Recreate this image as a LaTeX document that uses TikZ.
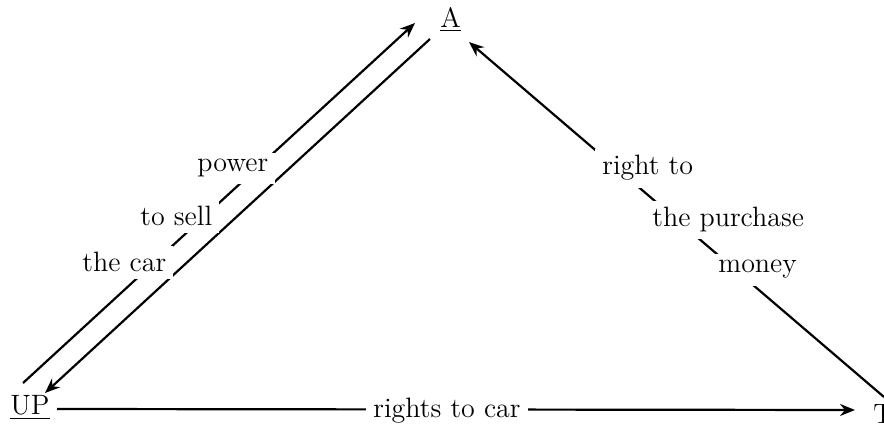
\documentclass[tikz,border=0pt]{standalone}
\usetikzlibrary{arrows.meta}
\tikzset{
  flowarrow/.style={-{Stealth[length=7.5pt,width=6pt,inset=2.5pt]}, line width=1.1pt},
  party/.style={inner sep=0pt, anchor=base west, font=\fontsize{14}{16}\selectfont},
  relabel/.style={fill=white, inner sep=3.5pt, anchor=base west, font=\fontsize{14}{16}\selectfont}
}
\begin{document}
\begin{tikzpicture}[x=0.5pt, y=-0.5pt]
  \useasboundingbox (0,0) rectangle (884,427);
  % the three parties
  \node[party] (A) at (440,28) {\underline{A}};
  \node[party] (UP) at (10,415) {\underline{UP}};
  \node[party] (T) at (873,423) {T};
  % line ends
  \coordinate (oa) at (415,23);
  \coordinate (ou) at (23,383);
  \coordinate (ia) at (430,39);
  \coordinate (iu) at (45,393);
  \coordinate (ta) at (469,42);
  \coordinate (tt) at (884,397);
  \coordinate (bu) at (57,409);
  \coordinate (bt) at (855,410);
  \draw[flowarrow] (ou) -- (oa);
  \draw[flowarrow] (ia) -- (iu);
  \draw[flowarrow] (tt) -- (ta);
  \draw[flowarrow] (bu) -- (bt);
  % labels on the lines
  \node[relabel] (pw1) at (190,172) {power};
  \node[relabel] (pw2) at (133,226) {to sell};
  \node[relabel] (pw3) at (75,272) {the car};
  \node[relabel] (rt1) at (595,175) {right to};
  \node[relabel] (rt2) at (645,227) {the purchase};
  \node[relabel] (rt3) at (711,273) {money};
  \node[relabel, anchor=base] (rc) at (447,417) {rights to car};
\end{tikzpicture}
\end{document}
